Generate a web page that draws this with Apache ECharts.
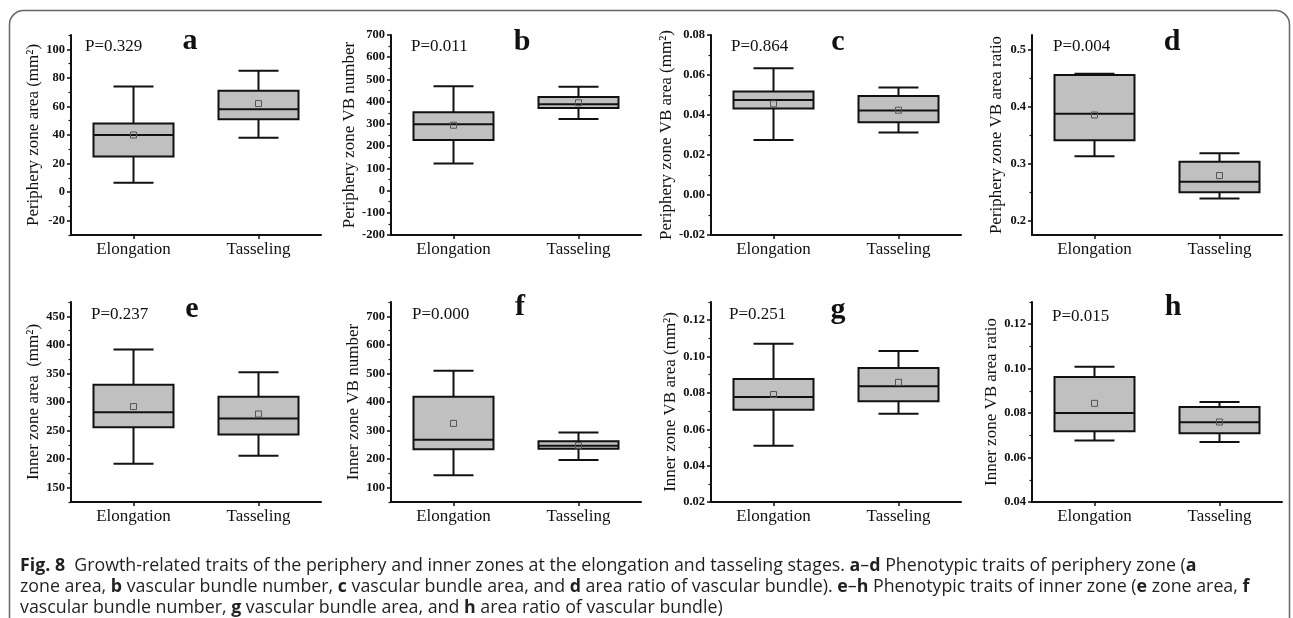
<!DOCTYPE html>
<html>
<head>
<meta charset="utf-8">
<script src="https://cdn.jsdelivr.net/npm/echarts@6/dist/echarts.min.js"></script>
<style>
  html, body { margin: 0; padding: 0; background: #fff; }
  #main { width: 1293px; height: 618px; }
</style>
</head>
<body>
<div id="main"></div>
<script>
// stages on the x axis
const stages = ['Elongation', 'Tasseling'];

// box summaries per stage: [min, Q1, median, Q3, max]; means kept separately
const periZoneArea = [[6.5, 25, 40, 48, 74], [38, 51, 58, 71, 85]];
const periZoneAreaMean = [40, 62];
const periVbNumber = [[122, 228, 298, 352, 469], [322, 371, 388, 421, 467]];
const periVbNumberMean = [294, 395];
const periVbArea = [[0.0275, 0.0432, 0.0475, 0.0517, 0.0634], [0.0313, 0.0364, 0.0423, 0.0495, 0.0537]];
const periVbAreaMean = [0.0456, 0.0424];
const periVbRatio = [[0.313, 0.341, 0.387, 0.455, 0.457], [0.239, 0.250, 0.268, 0.303, 0.318]];
const periVbRatioMean = [0.385, 0.279];

const innerZoneArea = [[192, 256, 282, 330, 392], [206, 243, 271, 309, 352]];
const innerZoneAreaMean = [292, 279];
const innerVbNumber = [[144, 235, 268, 418, 509], [197, 236, 247, 263, 293]];
const innerVbNumberMean = [325, 247];
const innerVbArea = [[0.0509, 0.0707, 0.0778, 0.0876, 0.107], [0.0685, 0.0754, 0.0837, 0.0937, 0.103]];
const innerVbAreaMean = [0.0791, 0.0858];
const innerVbRatio = [[0.0677, 0.0718, 0.0801, 0.0963, 0.1009], [0.0670, 0.0709, 0.0759, 0.0828, 0.085]];
const innerVbRatioMean = [0.0844, 0.0760];

// y tick labels per panel
const ticksA = [-20, 0, 20, 40, 60, 80, 100];
const ticksB = [-200, -100, 0, 100, 200, 300, 400, 500, 600, 700];
const ticksC = [-0.02, 0, 0.02, 0.04, 0.06, 0.08];
const ticksD = [0.2, 0.3, 0.4, 0.5];
const ticksE = [150, 200, 250, 300, 350, 400, 450];
const ticksF = [100, 200, 300, 400, 500, 600, 700];
const ticksG = [0.02, 0.04, 0.06, 0.08, 0.10, 0.12];
const ticksH = [0.04, 0.06, 0.08, 0.10, 0.12];

const yNames = [
  'Periphery zone area (mm²)', 'Periphery zone VB number', 'Periphery zone VB area (mm²)', 'Periphery zone VB area ratio',
  'Inner zone area  (mm²)', 'Inner zone VB number', 'Inner zone VB area (mm²)', 'Inner zone VB area ratio'
];
const pValues = ['P=0.329', 'P=0.011', 'P=0.864', 'P=0.004', 'P=0.237', 'P=0.000', 'P=0.251', 'P=0.015'];
const letters = ['a', 'b', 'c', 'd', 'e', 'f', 'g', 'h'];

const panels = [
  { box: periZoneArea, mean: periZoneAreaMean, ticks: ticksA, min: -30, max: 110, dec: 0 },
  { box: periVbNumber, mean: periVbNumberMean, ticks: ticksB, min: -200, max: 700, dec: 0 },
  { box: periVbArea, mean: periVbAreaMean, ticks: ticksC, min: -0.02, max: 0.08, dec: 2 },
  { box: periVbRatio, mean: periVbRatioMean, ticks: ticksD, min: 0.175, max: 0.525, dec: 1 },
  { box: innerZoneArea, mean: innerZoneAreaMean, ticks: ticksE, min: 125, max: 475, dec: 0 },
  { box: innerVbNumber, mean: innerVbNumberMean, ticks: ticksF, min: 50, max: 750, dec: 0 },
  { box: innerVbArea, mean: innerVbAreaMean, ticks: ticksG, min: 0.02, max: 0.13, dec: 2 },
  { box: innerVbRatio, mean: innerVbRatioMean, ticks: ticksH, min: 0.04, max: 0.13, dec: 2 }
];

// layout
const colLeft = [71, 391, 711, 1032];
const rowTop = [35, 302];
const gridW = 250, gridH = 200;
const nameGaps = [28, 30, 31, 27, 29, 28, 31, 31];
const pPos = [[85, 47], [411, 47], [731, 47], [1053, 47], [91, 315], [412, 315], [729, 315], [1052, 317]];
const letterPos = [[190, 41], [522, 42], [838, 42], [1172, 42], [192, 309], [520, 307], [838, 310], [1173, 307]];

const ink = '#111';
const serif = '"Liberation Serif", "Times New Roman", serif';

function minorTicks(ticks, min, max) {
  const step = ticks[1] - ticks[0];
  const out = [];
  for (let v = ticks[0] - step / 2; v <= max + 1e-9; v += step) {
    if (v >= min - 1e-9) out.push(+v.toFixed(6));
  }
  return out;
}

function renderBox(params, api) {
  const c = api.value(0);
  const x = api.coord([c, api.value(1)])[0];
  const y = [1, 2, 3, 4, 5, 6].map(i => api.coord([c, api.value(i)])[1]);
  const band = api.size([1, 0])[0];
  const hw = band * 0.32, cw = band * 0.16;
  const line = { stroke: ink, lineWidth: 2 };
  return {
    type: 'group',
    children: [
      { type: 'line', shape: { x1: x, y1: y[4], x2: x, y2: y[3] }, style: line },
      { type: 'line', shape: { x1: x, y1: y[1], x2: x, y2: y[0] }, style: line },
      { type: 'line', shape: { x1: x - cw, y1: y[4], x2: x + cw, y2: y[4] }, style: line },
      { type: 'line', shape: { x1: x - cw, y1: y[0], x2: x + cw, y2: y[0] }, style: line },
      { type: 'rect', shape: { x: x - hw, y: y[3], width: hw * 2, height: y[1] - y[3] },
        style: { fill: '#c0c0c0', stroke: ink, lineWidth: 2 } },
      { type: 'line', shape: { x1: x - hw, y1: y[2], x2: x + hw, y2: y[2] }, style: line },
      { type: 'rect', shape: { x: x - 3, y: y[5] - 3, width: 6, height: 6 },
        style: { fill: 'none', stroke: '#555', lineWidth: 1 } }
    ]
  };
}

const grid = [], xAxis = [], yAxis = [], series = [], graphic = [];

panels.forEach((p, i) => {
  const col = i % 4, row = Math.floor(i / 4);
  grid.push({ left: colLeft[col], top: rowTop[row], width: gridW, height: gridH, containLabel: false, outerBoundsMode: 'none' });
  xAxis.push({
    gridIndex: i, type: 'category', data: stages, boundaryGap: true, position: 'bottom',
    axisLine: { show: true, onZero: false, lineStyle: { color: ink, width: 2 } },
    axisTick: { show: true, alignWithLabel: true, length: 4, lineStyle: { color: ink, width: 1.5 } },
    axisLabel: { color: ink, fontSize: 17, fontFamily: serif, margin: 6 },
    splitLine: { show: false }
  });
  yAxis.push({
    gridIndex: i, type: 'value', min: p.min, max: p.max, position: 'left',
    name: yNames[i], nameLocation: 'middle', nameGap: nameGaps[i],
    nameTextStyle: { color: ink, fontSize: 17, fontFamily: serif },
    axisLine: { show: true, onZero: false, lineStyle: { color: ink, width: 2 } },
    axisTick: { show: true, length: 4, customValues: p.ticks, lineStyle: { color: ink, width: 1.5 } },
    axisLabel: {
      show: true, customValues: p.ticks, color: ink, fontSize: 12.5, fontWeight: 'bold', fontFamily: serif, margin: 6,
      formatter: v => Number(v).toFixed(p.dec)
    },
    splitLine: { show: false }
  });
  // minor ticks on an overlaid axis
  yAxis.push({
    gridIndex: i, type: 'value', min: p.min, max: p.max, position: 'left', offset: 0,
    axisLine: { show: false, onZero: false },
    axisTick: { show: true, length: 2.5, customValues: minorTicks(p.ticks, p.min, p.max), lineStyle: { color: ink, width: 1.2 } },
    axisLabel: { show: false },
    splitLine: { show: false }
  });
  series.push({
    type: 'custom', xAxisIndex: i, yAxisIndex: i * 2,
    renderItem: renderBox,
    encode: { x: 0, y: [1, 2, 3, 4, 5, 6] },
    data: p.box.map((b, k) => [k, ...b, p.mean[k]]),
    silent: true
  });
  graphic.push({
    type: 'text', x: pPos[i][0], y: pPos[i][1],
    style: { text: pValues[i], fill: ink, font: '17px ' + serif, verticalAlign: 'middle' }
  });
  graphic.push({
    type: 'text', x: letterPos[i][0], y: letterPos[i][1],
    style: { text: letters[i], fill: ink, font: 'bold 30px ' + serif, align: 'center', verticalAlign: 'middle' }
  });
});

// figure border and caption
const sans = '"Open Sans", "Noto Sans", sans-serif';
const capSize = 17.8;
const capRich = { b: { fontWeight: 'bold', fontSize: capSize, fontFamily: sans, fill: '#231f20' } };
const captionLines = [
  '{b|Fig. 8}  Growth-related traits of the periphery and inner zones at the elongation and tasseling stages. {b|a}–{b|d} Phenotypic traits of periphery zone ({b|a}',
  'zone area, {b|b} vascular bundle number, {b|c} vascular bundle area, and {b|d} area ratio of vascular bundle). {b|e}–{b|h} Phenotypic traits of inner zone ({b|e} zone area, {b|f}',
  'vascular bundle number, {b|g} vascular bundle area, and {b|h} area ratio of vascular bundle)'
];
const captionY = [566, 587, 608];

graphic.push({
  type: 'rect', shape: { x: 9.5, y: 10.5, width: 1280, height: 660, r: 14 },
  style: { fill: 'none', stroke: '#666', lineWidth: 1.5 }, z: -1
});
captionLines.forEach((t, k) => {
  graphic.push({
    type: 'text', x: 20, y: captionY[k],
    style: { text: t, rich: capRich, fill: '#231f20', fontSize: capSize, fontFamily: sans, verticalAlign: 'middle' }
  });
});

const chart = echarts.init(document.getElementById('main'), null, { renderer: 'canvas' });
chart.setOption({
  backgroundColor: '#fff',
  animation: false,
  grid, xAxis, yAxis, series, graphic
});
</script>
</body>
</html>
